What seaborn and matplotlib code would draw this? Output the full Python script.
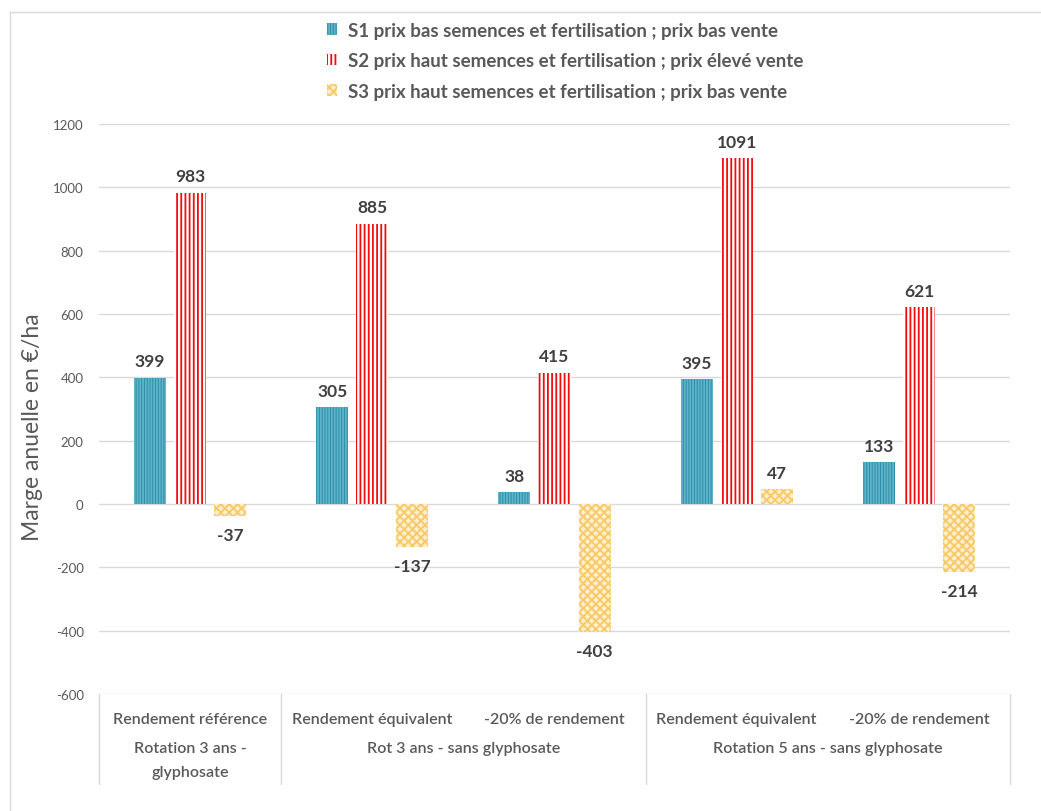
import pandas as pd
import matplotlib
matplotlib.use("Agg")
import matplotlib.pyplot as plt
import matplotlib.transforms as mtransforms
from matplotlib.patches import Patch
from matplotlib.lines import Line2D
import seaborn as sns

# data
groups = ["Rotation 3 ans -\nglyphosate", "Rot 3 ans - sans glyphosate", "Rotation 5 ans - sans glyphosate"]
group_span = [(0, 0), (1, 2), (3, 4)]
scenarios = ["Rendement référence", "Rendement équivalent", "-20% de rendement",
             "Rendement équivalent", "-20% de rendement"]
series = ["S1 prix bas semences et fertilisation ; prix bas vente",
          "S2 prix haut semences et fertilisation ; prix élevé vente",
          "S3 prix haut semences et fertilisation ; prix bas vente"]
s1 = [399, 305, 38, 395, 133]
s2 = [983, 885, 415, 1091, 621]
s3 = [-37, -137, -403, 47, -214]

styles = [
    dict(facecolor="#2A8DA8", edgecolor="#5FB4CA", hatch="||||||"),
    dict(facecolor="white", edgecolor="#F20D0D", hatch="||||"),
    dict(facecolor="#FEEFCC", edgecolor="#F9C866", hatch="xxxx"),
]

keys = [str(i) for i in range(len(scenarios))]
df = pd.DataFrame({
    "pos": keys * 3,
    "value": s1 + s2 + s3,
    "serie": [series[0]] * 5 + [series[1]] * 5 + [series[2]] * 5,
})

sns.set_style("white")
plt.rcParams["font.family"] = ["Lato", "DejaVu Sans"]
plt.rcParams["hatch.linewidth"] = 1.3
plt.rcParams["axes.unicode_minus"] = False

fig = plt.figure(figsize=(10.41, 8.12), dpi=100)
ax = fig.add_axes([0.0951, 0.1441, 0.8751, 0.702])

sns.barplot(data=df, x="pos", y="value", hue="serie", order=keys, hue_order=series,
            width=0.66, gap=0.2, ax=ax, legend=False, errorbar=None)

for cont, st, vals in zip(ax.containers, styles, [s1, s2, s3]):
    for patch, v in zip(cont, vals):
        patch.set_facecolor(st["facecolor"])
        patch.set_edgecolor(st["edgecolor"])
        patch.set_hatch(st["hatch"])
        patch.set_linewidth(0)
        cx = patch.get_x() + patch.get_width() / 2
        if v >= 0:
            ax.annotate(str(v), (cx, v), xytext=(0, 6), textcoords="offset points",
                        ha="center", va="bottom", fontsize=12.5, fontweight="bold", color="#404040")
        else:
            ax.annotate(str(v), (cx, v), xytext=(0, -8), textcoords="offset points",
                        ha="center", va="top", fontsize=12.5, fontweight="bold", color="#404040")

ax.set_ylim(-600, 1200)
ax.set_xlim(-0.5, 4.5)
ax.set_yticks(range(-600, 1201, 200))
ax.yaxis.grid(True, color="#D9D9D9", linewidth=1)
ax.set_axisbelow(True)
ax.tick_params(axis="y", length=0, pad=11, labelsize=9.5, labelcolor="#595959")
ax.set_xticks([])
ax.set_xlabel("")
ax.set_ylabel("Marge anuelle en €/ha", fontsize=16.5, color="#595959")
ax.yaxis.set_label_coords(-0.062, 0.47)
for sp in ax.spines.values():
    sp.set_visible(False)

# two-level category labels under the axis
trans = mtransforms.blended_transform_factory(ax.transData, ax.transAxes)
for i, lab in enumerate(scenarios):
    ax.text(i, -0.044, lab, transform=trans, ha="center", va="center",
            fontsize=11.5, fontweight="semibold", color="#595959")
for (a, b), g in zip(group_span, groups):
    ax.text((a + b) / 2, -0.082, g, transform=trans, ha="center", va="top",
            fontsize=11.5, fontweight="semibold", color="#595959", linespacing=1.95)
for xb in [-0.5, 0.5, 2.5, 4.5]:
    ax.add_line(Line2D([xb, xb], [0, -0.158], transform=trans, color="#D9D9D9",
                       linewidth=1, clip_on=False))

# legend
handles = [Patch(facecolor=st["facecolor"], edgecolor=st["edgecolor"], hatch=st["hatch"],
                 linewidth=0, label=s) for st, s in zip(styles, series)]
leg = fig.legend(handles=handles, loc="upper center", bbox_to_anchor=(0.543, 0.993),
                 frameon=False, fontsize=13.5, handlelength=0.55, handleheight=0.55,
                 handletextpad=0.6, labelspacing=0.72)
for t in leg.get_texts():
    t.set_color("#595959")
    t.set_fontweight("bold")

# chart area border (top and left)
fig.add_artist(Line2D([10 / 1041, 1], [1 - 13 / 812, 1 - 13 / 812], transform=fig.transFigure,
                      color="#D9D9D9", linewidth=1))
fig.add_artist(Line2D([10 / 1041, 10 / 1041], [0, 1 - 13 / 812], transform=fig.transFigure,
                      color="#D9D9D9", linewidth=1))

fig.savefig("out.png", dpi=100)
